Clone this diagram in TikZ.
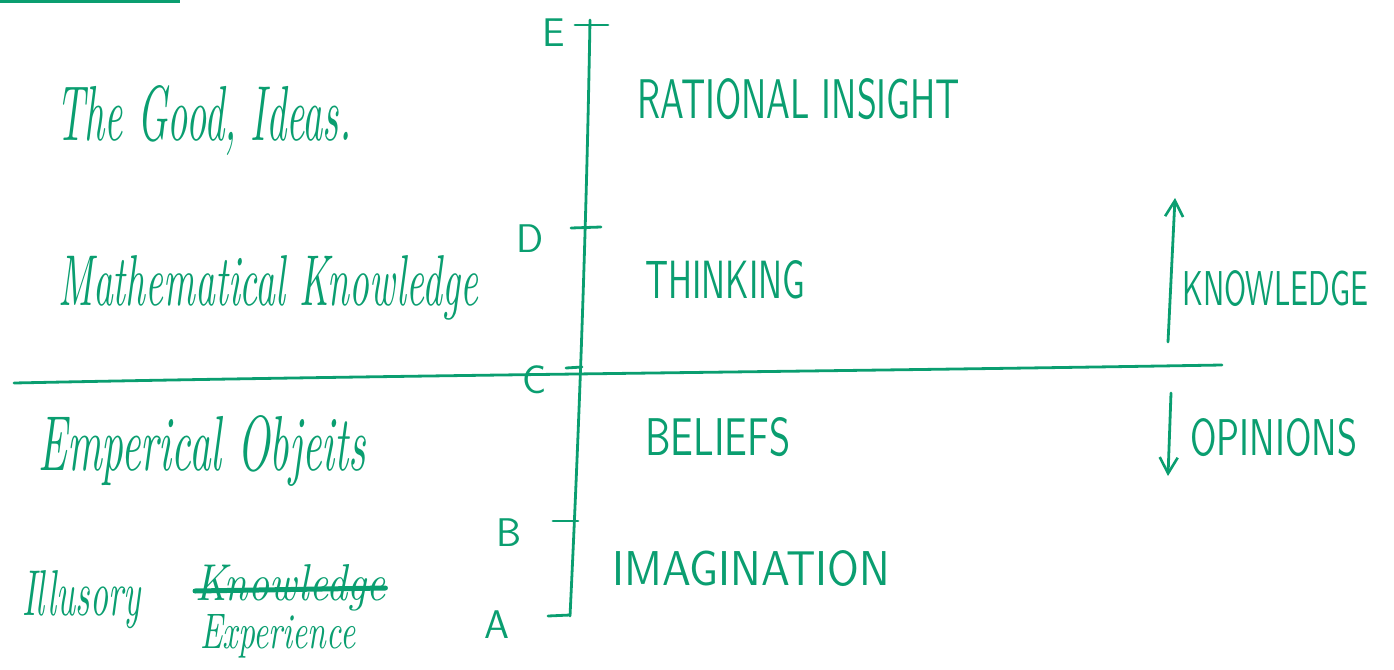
\documentclass[tikz,border=0pt]{standalone}
\usepackage{graphicx}
\usetikzlibrary{arrows.meta}
\definecolor{ink}{RGB}{10,158,112}
\newcommand{\fitwh}[3]{\resizebox{#1}{#2}{#3}}
\begin{document}
\begin{tikzpicture}[x=1pt,y=-1pt,
  every node/.style={text=ink,inner sep=0pt},
  handline/.style={draw=ink,line width=2.8pt,line cap=round,line join=round},
  cursive/.style={font=\itshape,anchor=base west},
  capsl/.style={font=\sffamily,anchor=base west},
  letter/.style={font=\sffamily\fontsize{40}{42}\selectfont,anchor=base west},
  arr/.style={handline,-{Straight Barb[length=16pt,width=18pt,line width=2.6pt]}}]
\useasboundingbox (0,0) rectangle (1394,669);
\fill[ink] (0,0) rectangle (180,3);
% main vertical line
\coordinate (vtop) at (590,20);
\coordinate (vbot) at (570,616);
\draw[handline] (vtop) .. controls (586,250) and (578,450) .. (vbot);
% ticks
\coordinate (eL) at (575,25); \coordinate (eR) at (608,25);
\coordinate (dL) at (571,228); \coordinate (dR) at (601,227);
\coordinate (cL) at (566,368); \coordinate (cR) at (582,367);
\coordinate (bL) at (553,521); \coordinate (bR) at (578,521);
\coordinate (aL) at (548,616); \coordinate (aR) at (570,615);
\draw[handline] (eL) -- (eR);
\draw[handline] (dL) -- (dR);
\draw[handline] (cL) -- (cR);
\draw[handline] (bL) -- (bR);
\draw[handline] (aL) -- (aR);
% horizontal line
\coordinate (hL) at (14,383);
\coordinate (hR) at (1222,365);
\draw[handline] (hL) .. controls (400,375) and (800,372) .. (hR);
% letters
\node[letter] (E) at (542,47) {E};
\node[letter] (D) at (516,252) {D};
\node[letter] (C) at (522,393) {C};
\node[letter] (B) at (496,546) {B};
\node[letter] (A) at (484,638) {A};
% left cursive labels
\node[cursive] (good) at (56,140) {\fitwh{295pt}{55pt}{The Good, Ideas.}};
\node[cursive] (math) at (58,305) {\fitwh{420pt}{50pt}{Mathematical Knowledge}};
\node[cursive] (emp) at (38,470) {\fitwh{328pt}{55pt}{Emperical Objeits}};
\node[cursive] (ill) at (22,615) {\fitwh{118pt}{45pt}{Illusory}};
\node[cursive] (kno) at (195,600) {\fitwh{190pt}{36pt}{Knowledge}};
\draw[handline,line width=5pt] ([yshift=9pt]kno.base west) -- ([yshift=12pt]kno.base east);
\node[cursive] (exp) at (200,648) {\fitwh{155pt}{34pt}{Experience}};
% right caps labels
\node[capsl] (ri) at (637,118) {\fitwh{323pt}{40pt}{RATIONAL INSIGHT}};
\node[capsl] (th) at (645,298) {\fitwh{160pt}{38pt}{THINKING}};
\node[capsl] (be) at (645,455) {\fitwh{145pt}{38pt}{BELIEFS}};
\node[capsl] (im) at (612,585) {\fitwh{278pt}{35pt}{IMAGINATION}};
\node[capsl] (kw) at (1182,305) {\fitwh{186pt}{35pt}{KNOWLEDGE}};
\node[capsl] (op) at (1190,455) {\fitwh{167pt}{37pt}{OPINIONS}};
% arrows
\coordinate (kb) at (1168,342);
\coordinate (kt) at (1175,198);
\draw[arr] (kb) -- (kt);
\coordinate (ot) at (1171,393);
\coordinate (ob) at (1168,476);
\draw[arr] (ot) -- (ob);
\end{tikzpicture}
\end{document}
